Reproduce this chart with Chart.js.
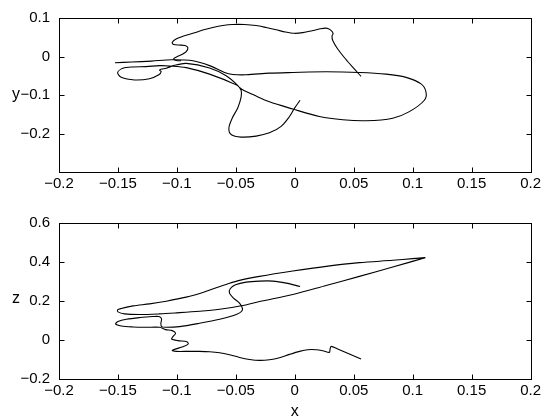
<!DOCTYPE html>
<html>
<head>
<meta charset="utf-8">
<script src="https://cdn.jsdelivr.net/npm/chart.js@4.4.1/dist/chart.umd.min.js"></script>
<style>
  html, body { margin: 0; padding: 0; background: #fff; }
  #wrap { position: relative; width: 544px; height: 416px; }
  canvas { position: absolute; left: 0; }
</style>
</head>
<body>
<div id="wrap">
  <canvas id="xy" width="544" height="205" style="top:0"></canvas>
  <canvas id="xz" width="544" height="211" style="top:205px"></canvas>
</div>
<script>
// tick values
const xTicks = [-0.2, -0.15, -0.1, -0.05, 0, 0.05, 0.1, 0.15, 0.2];
const yTicks = [-0.2, -0.1, 0, 0.1];
const zTicks = [-0.2, 0, 0.2, 0.4, 0.6];

// top panel (x, y): wiggle branch from the end near x=0.056
const wiggleX = [0.0562,0.0497,0.0429,0.0364,0.0322,0.0316,0.0325,0.0305,0.0266,0.0215,0.0147,0.0068,-0.0003,-0.0079,-0.0158,-0.0243,-0.0328,-0.0427,-0.0525,-0.0610,-0.0695,-0.0780,-0.0864,-0.0949,-0.1011,-0.1040,-0.1028,-0.0983,-0.0932,-0.0907,-0.0921,-0.0958,-0.1000,-0.1028,-0.1006,-0.0964];
const wiggleY = [-0.0517,-0.0297,-0.0059,0.0195,0.0415,0.0534,0.0602,0.0686,0.0737,0.0720,0.0669,0.0619,0.0602,0.0636,0.0695,0.0754,0.0805,0.0831,0.0831,0.0805,0.0754,0.0686,0.0602,0.0525,0.0449,0.0364,0.0314,0.0297,0.0288,0.0229,0.0127,0.0051,-0.0008,-0.0059,-0.0102,-0.0110];

// top panel: left end -> big loop -> small loop -> S -> end near x=0.005
const loopX = [-0.1525,-0.1384,-0.1215,-0.1045,-0.0864,-0.0723,-0.0596,-0.0525,-0.0412,-0.0215,-0.0017,0.0266,0.0548,0.0774,0.0944,0.1071,0.1113,0.1099,0.0972,0.0831,0.0605,0.0407,0.0209,-0.0017,-0.0215,-0.0342,-0.0446,-0.0497,-0.0723,-0.0921,-0.1062,-0.1147,-0.1260,-0.1373,-0.1458,-0.1503,-0.1472,-0.1359,-0.1232,-0.1153,-0.1133,-0.1147,-0.1136,-0.1090,-0.1020,-0.0921,-0.0723,-0.0582,-0.0483,-0.0455,-0.0455,-0.0483,-0.0531,-0.0559,-0.0540,-0.0455,-0.0328,-0.0215,-0.0116,-0.0045,-0.0003,0.0045];
const loopY = [-0.0161,-0.0144,-0.0119,-0.0085,-0.0110,-0.0237,-0.0415,-0.0466,-0.0475,-0.0432,-0.0415,-0.0398,-0.0415,-0.0458,-0.0542,-0.0712,-0.0924,-0.1136,-0.1432,-0.1602,-0.1669,-0.1644,-0.1559,-0.1364,-0.1178,-0.1008,-0.0856,-0.0737,-0.0458,-0.0288,-0.0246,-0.0237,-0.0263,-0.0271,-0.0305,-0.0415,-0.0542,-0.0610,-0.0576,-0.0475,-0.0390,-0.0356,-0.0331,-0.0305,-0.0229,-0.0178,-0.0297,-0.0500,-0.0754,-0.0881,-0.1051,-0.1331,-0.1602,-0.1856,-0.2025,-0.2093,-0.2068,-0.1983,-0.1814,-0.1559,-0.1347,-0.1136];

// bottom panel (x, z): wavy branch, zigzag, lower loop, S to end
const mainX = [0.0562,0.0463,0.0364,0.0308,0.0299,0.0294,0.0237,0.0181,0.0110,0.0040,-0.0045,-0.0130,-0.0215,-0.0299,-0.0384,-0.0469,-0.0554,-0.0638,-0.0723,-0.0808,-0.0907,-0.1006,-0.1040,-0.1020,-0.0949,-0.0904,-0.0915,-0.0992,-0.1045,-0.1034,-0.1011,-0.1040,-0.1096,-0.1147,-0.1260,-0.1373,-0.1472,-0.1520,-0.1500,-0.1429,-0.1316,-0.1203,-0.1153,-0.1130,-0.1136,-0.1130,-0.1090,-0.0977,-0.0808,-0.0638,-0.0497,-0.0444,-0.0469,-0.0520,-0.0554,-0.0548,-0.0503,-0.0412,-0.0299,-0.0186,-0.0073,0.0045];
const mainZ = [-0.0979,-0.0721,-0.0464,-0.0326,-0.0481,-0.0635,-0.0549,-0.0498,-0.0498,-0.0584,-0.0738,-0.0910,-0.1013,-0.1047,-0.0996,-0.0893,-0.0755,-0.0652,-0.0601,-0.0584,-0.0584,-0.0584,-0.0549,-0.0481,-0.0343,-0.0206,-0.0086,-0.0034,0.0052,0.0172,0.0343,0.0481,0.0532,0.0652,0.0652,0.0670,0.0721,0.0824,0.0944,0.1064,0.1150,0.1202,0.1202,0.1082,0.0858,0.0687,0.0652,0.0687,0.0858,0.1064,0.1305,0.1545,0.1888,0.2146,0.2403,0.2627,0.2833,0.2970,0.3021,0.3021,0.2918,0.2747];

// bottom panel: long upper loop out to x=0.11
const upperX = [0.1107,0.0831,0.0548,0.0266,-0.0017,-0.0299,-0.0441,-0.0638,-0.0808,-0.1006,-0.1147,-0.1316,-0.1444,-0.1500,-0.1503,-0.1472,-0.1373,-0.1232,-0.1090,-0.0921,-0.0780,-0.0667,-0.0582,-0.0469,-0.0299,-0.0017,0.0266,0.0548,0.0831,0.1000,0.1107];
const upperZ = [0.4223,0.3742,0.3262,0.2798,0.2335,0.1974,0.1768,0.1579,0.1476,0.1391,0.1339,0.1305,0.1339,0.1442,0.1545,0.1614,0.1751,0.1854,0.1991,0.2197,0.2438,0.2678,0.2850,0.3056,0.3262,0.3536,0.3777,0.3966,0.4086,0.4172,0.4223];

const FONT = '"Liberation Sans", Arial, Helvetica, sans-serif';

function pts(xs, ys) {
  return xs.map((v, i) => ({ x: v, y: ys[i] }));
}

function fmt(v) {
  const s = String(Number(v.toFixed(2)));
  return s.replace('-', '\u2212');
}

// matlab style box with inward ticks and a horizontal axis name
const boxPlugin = {
  id: 'box',
  afterDraw(chart, args, opts) {
    const { ctx, chartArea: a, scales } = chart;
    const L = Math.round(a.left) + 0.5, R = Math.round(a.right) + 0.5;
    const T = Math.round(a.top) + 0.5, B = Math.round(a.bottom) + 0.5;
    ctx.save();
    ctx.strokeStyle = '#000';
    ctx.lineWidth = 1;
    ctx.strokeRect(L, T, R - L, B - T);
    ctx.beginPath();
    scales.x.ticks.forEach(t => {
      const p = Math.round(scales.x.getPixelForValue(t.value)) + 0.5;
      ctx.moveTo(p, B); ctx.lineTo(p, B - 5);
      ctx.moveTo(p, T); ctx.lineTo(p, T + 5);
    });
    scales.y.ticks.forEach(t => {
      const p = Math.round(scales.y.getPixelForValue(t.value)) + 0.5;
      ctx.moveTo(L, p); ctx.lineTo(L + 5, p);
      ctx.moveTo(R, p); ctx.lineTo(R - 5, p);
    });
    ctx.stroke();
    ctx.fillStyle = '#000';
    ctx.font = '16px ' + FONT;
    ctx.textAlign = 'center';
    ctx.textBaseline = 'middle';
    ctx.fillText(opts.label, 16, (a.top + a.bottom) / 2 + opts.dy);
    ctx.restore();
  }
};

function makeChart(id, sets, yMin, yMax, yVals, yName, yNameDy, padTop, xHeight, xTitle) {
  const datasets = sets.map(s => ({
    data: s,
    showLine: true,
    borderColor: '#000',
    borderWidth: 1.1,
    pointRadius: 0,
    tension: 0.3,
    fill: false
  }));
  return new Chart(document.getElementById(id), {
    type: 'scatter',
    data: { datasets },
    options: {
      responsive: false,
      animation: false,
      events: [],
      layout: { padding: { top: padTop, right: 12, left: 0, bottom: 0 } },
      plugins: {
        legend: { display: false },
        tooltip: { enabled: false },
        box: { label: yName, dy: yNameDy }
      },
      scales: {
        x: {
          type: 'linear',
          min: -0.2, max: 0.2,
          afterBuildTicks: sc => { sc.ticks = xTicks.map(v => ({ value: v })); },
          afterFit: sc => { sc.height = xHeight; },
          grid: { display: false, drawTicks: false },
          border: { display: false },
          ticks: { color: '#000', padding: 3, maxRotation: 0, autoSkip: false,
                   font: { family: FONT, size: 15 }, callback: v => fmt(v) },
          title: { display: !!xTitle, text: xTitle || '', color: '#000',
                   padding: { top: 0, bottom: 0 },
                   font: { family: FONT, size: 16, lineHeight: 0.55 } }
        },
        y: {
          type: 'linear',
          min: yMin, max: yMax,
          afterBuildTicks: sc => { sc.ticks = yVals.map(v => ({ value: v })); },
          afterFit: sc => { sc.width = 59; },
          grid: { display: false, drawTicks: false },
          border: { display: false },
          ticks: { color: '#000', padding: 9, autoSkip: false,
                   font: { family: FONT, size: 15 }, callback: v => fmt(v) }
        }
      }
    },
    plugins: [boxPlugin]
  });
}

makeChart('xy', [pts(wiggleX, wiggleY), pts(loopX, loopY)],
  -0.3, 0.1, yTicks, 'y', 0, 15, 33, null);
makeChart('xz', [pts(mainX, mainZ), pts(upperX, upperZ)],
  -0.2, 0.6, zTicks, 'z', -2, 16, 37, 'x');
</script>
</body>
</html>
